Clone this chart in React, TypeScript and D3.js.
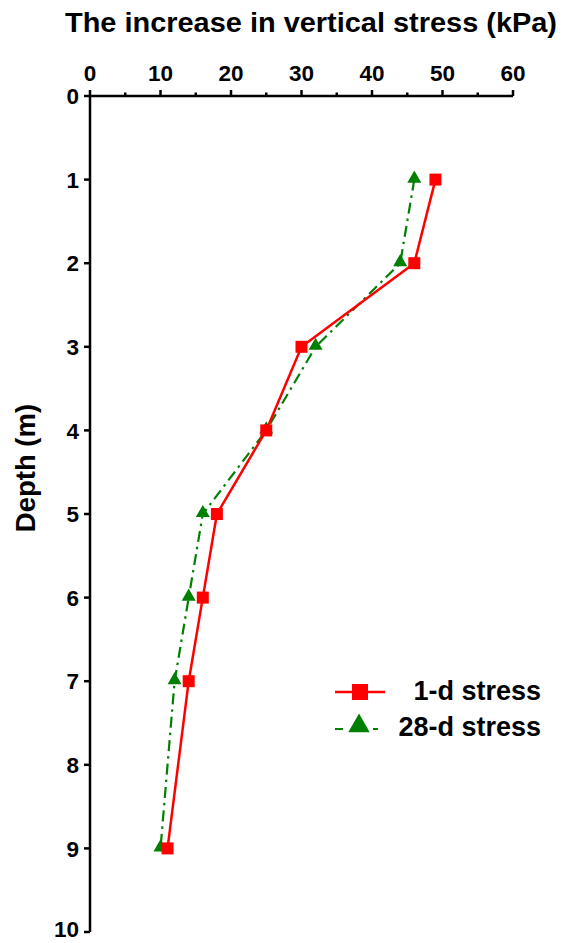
import React from "react";
import * as d3 from "d3";

const depths = [1, 2, 3, 4, 5, 6, 7, 9];
const stress1d = [49, 46, 30, 25, 18, 16, 14, 11];
const stress28d = [46, 44, 32, 25, 16, 14, 12, 10];
const xTicks = [0, 10, 20, 30, 40, 50, 60];
const yTicks = [0, 1, 2, 3, 4, 5, 6, 7, 8, 9, 10];

const W = 563;
const H = 943;
const font = "'Liberation Sans', Arial, sans-serif";

const App = () => {
  const x = d3.scaleLinear().domain([0, 60]).range([90, 513]);
  const y = d3.scaleLinear().domain([0, 10]).range([96, 932]);

  const line = d3
    .line<[number, number]>()
    .x((d) => x(d[0]))
    .y((d) => y(d[1]));

  const pts1 = depths.map((d, i) => [stress1d[i], d] as [number, number]);
  const pts28 = depths.map((d, i) => [stress28d[i], d] as [number, number]);

  const tri = d3.symbol().type(d3.symbolTriangle).size(85)();
  const triBig = d3.symbol().type(d3.symbolTriangle).size(200)();
  const minor = d3.range(5, 60, 10);

  return (
    <svg width={W} height={H} style={{ display: "block", position: "absolute", left: 0, top: 0 }}>
      <rect width={W} height={H} fill="#fff" />
      <text
        x={65}
        y={32}
        textLength={492}
        lengthAdjust="spacingAndGlyphs"
        fontFamily={font}
        fontWeight="bold"
        fontSize={27}
      >
        The increase in vertical stress (kPa)
      </text>
      <text
        transform={`translate(35,${y(4.45)}) rotate(-90)`}
        textAnchor="middle"
        fontFamily={font}
        fontWeight="bold"
        fontSize={27.5}
      >
        Depth (m)
      </text>

      {/* top x axis */}
      <line x1={x(0)} x2={x(60)} y1={y(0)} y2={y(0)} stroke="#000" strokeWidth={2.5} />
      {xTicks.map((t) => (
        <g key={"x" + t}>
          <line x1={x(t)} x2={x(t)} y1={y(0)} y2={y(0) - 6} stroke="#000" strokeWidth={2.5} />
          <text x={x(t)} y={81} textAnchor="middle" fontFamily={font} fontWeight="bold" fontSize={22.5}>
            {t}
          </text>
        </g>
      ))}
      {minor.map((t) => (
        <line key={"m" + t} x1={x(t)} x2={x(t)} y1={y(0)} y2={y(0) - 3.5} stroke="#000" strokeWidth={2.5} />
      ))}

      {/* left y axis */}
      <line x1={x(0)} x2={x(0)} y1={y(0)} y2={y(10)} stroke="#000" strokeWidth={2.5} />
      {yTicks.map((t) => (
        <g key={"y" + t}>
          <line x1={x(0)} x2={x(0) - 6} y1={y(t)} y2={y(t)} stroke="#000" strokeWidth={2.5} />
          <text
            x={x(0) - 11}
            y={y(t)}
            dy={t === 10 ? "0.2em" : "0.36em"}
            textAnchor="end"
            fontFamily={font}
            fontWeight="bold"
            fontSize={22.5}
          >
            {t}
          </text>
        </g>
      ))}

      {/* series */}
      <path d={line(pts28) || ""} fill="none" stroke="#008000" strokeWidth={2.2} strokeDasharray="11,5,2.5,5" />
      <path d={line(pts1) || ""} fill="none" stroke="#ff0000" strokeWidth={2.5} />
      {pts28.map((p, i) => (
        <path key={"t" + i} d={tri || ""} transform={`translate(${x(p[0])},${y(p[1]) - 1})`} fill="#008000" />
      ))}
      {pts1.map((p, i) => (
        <rect key={"s" + i} x={x(p[0]) - 6} y={y(p[1]) - 6} width={12} height={12} fill="#ff0000" />
      ))}

      {/* legend */}
      <line x1={335} x2={385} y1={692} y2={692} stroke="#ff0000" strokeWidth={2.5} />
      <rect x={352} y={684} width={16} height={16} fill="#ff0000" />
      <text x={541} y={700} textAnchor="end" fontFamily={font} fontWeight="bold" fontSize={27}>
        1-d stress
      </text>
      <line x1={335} x2={378} y1={729} y2={729} stroke="#008000" strokeWidth={2.2} strokeDasharray="8,30,8" />
      <path d={triBig || ""} transform={`translate(359,726)`} fill="#008000" />
      <text x={541} y={736} textAnchor="end" fontFamily={font} fontWeight="bold" fontSize={27}>
        28-d stress
      </text>
    </svg>
  );
};

export default App;
